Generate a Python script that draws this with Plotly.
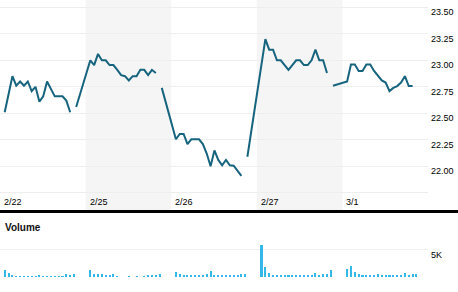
import plotly.graph_objects as go

# ---------------- data ----------------
DAY_LABELS = ["2/22", "2/25", "2/26", "2/27", "3/1"]
# previous close shown before each session's first bar (none for the first day)
PREV_CLOSE = [None, 22.56, 22.74, 22.09, 22.76]

PRICE_D1 = [22.51, 22.68, 22.85, 22.76, 22.80, 22.76, 22.80, 22.71, 22.75, 22.61,
            22.66, 22.80, 22.73, 22.66, 22.66, 22.66, 22.62, 22.51]
PRICE_D2 = [23.00, 22.955, 23.06, 23.00, 23.00, 22.955, 22.955, 22.91, 22.86, 22.85,
            22.81, 22.85, 22.85, 22.91, 22.91, 22.86, 22.91, 22.88]
PRICE_D3 = [22.255, 22.305, 22.305, 22.21, 22.255, 22.255, 22.255, 22.21, 22.12, 22.00,
            22.15, 22.06, 22.01, 22.06, 22.01, 22.005, 21.96, 21.91]
PRICE_D4 = [22.99, 23.20, 23.10, 23.10, 23.00, 23.00, 22.955, 22.91, 22.955, 23.00,
            23.00, 22.955, 22.955, 23.00, 23.10, 23.00, 23.00, 22.88]
PRICE_D5 = [22.80, 22.96, 22.96, 22.90, 22.90, 22.96, 22.96, 22.90, 22.85, 22.81,
            22.79, 22.71, 22.74, 22.757, 22.79, 22.85, 22.757, 22.757]

VOL_D1 = [1230, 790, 370, 180, 180, 180, 180, 180, 180, 370,
          180, 180, 180, 180, 180, 180, 550, 370, 550]
VOL_D2 = [1230, 500, 550, 550, 250, 250, 550, 180, 0, 0,
          180, 0, 180, 0, 180, 370, 370, 370, 550]
VOL_D3 = [980, 550, 250, 430, 430, 250, 430, 430, 550, 1160,
          250, 370, 370, 250, 250, 250, 370, 550, 550]
VOL_D4 = [5900, 1750, 730, 250, 370, 370, 200, 200, 200, 370,
          200, 200, 200, 200, 730, 370, 550, 550, 1280]
VOL_D5 = [1550, 2000, 950, 550, 330, 330, 250, 200, 550, 370,
          370, 250, 330, 250, 370, 780, 370, 550, 550]

PRICE_TICKS = [21.75, 22.00, 22.25, 22.50, 22.75, 23.00, 23.25, 23.50]
PRICE_TICK_TEXT = ["", "22.00", "22.25", "22.50", "22.75", "23.00", "23.25", "23.50"]
VOL_TICKS = [0, 5000]
VOL_TICK_TEXT = ["", "5K"]

# session timing, in fractions of a day slot
FIRST_BAR = 0.055
BAR_STEP = 0.045
PREV_T = -0.11

PRICES = [PRICE_D1, PRICE_D2, PRICE_D3, PRICE_D4, PRICE_D5]
VOLS = [VOL_D1, VOL_D2, VOL_D3, VOL_D4, VOL_D5]

# ---------------- build series ----------------
px_x, px_y = [], []
for d, (pc, prices) in enumerate(zip(PREV_CLOSE, PRICES)):
    if pc is not None:
        px_x.append(d + PREV_T)
        px_y.append(pc)
    for k, p in enumerate(prices):
        px_x.append(d + FIRST_BAR + k * BAR_STEP)
        px_y.append(p)
    px_x.append(None)
    px_y.append(None)

vx, vy = [], []
for d, vols in enumerate(VOLS):
    for k, v in enumerate(vols):
        vx.append(d + FIRST_BAR + k * BAR_STEP)
        vy.append(v)

W, H = 458, 292
PLOT_R = 428 / W
PRICE_BOTTOM = (H - 209) / H
VOL_DOM = [(H - 277) / H, (H - 240) / H]
FONT = "Liberation Sans, Arial, sans-serif"

fig = go.Figure()
fig.add_trace(go.Scatter(x=px_x, y=px_y, mode="lines", connectgaps=False,
                         line=dict(color="#17647e", width=2), hoverinfo="skip",
                         xaxis="x", yaxis="y"))
fig.add_trace(go.Bar(x=vx, y=vy, width=0.024, marker=dict(color="#33b8e8", line_width=0),
                     xaxis="x2", yaxis="y2", hoverinfo="skip"))

shapes = []
for d in range(len(DAY_LABELS)):
    if d % 2 == 1:
        shapes.append(dict(type="rect", xref="x", yref="paper", x0=d, x1=d + 1,
                           y0=PRICE_BOTTOM - 2 / H, y1=1, fillcolor="#f5f5f5",
                           line_width=0, layer="below"))
shapes.append(dict(type="line", xref="paper", yref="paper", x0=0, x1=1,
                   y0=(H - 211.5) / H, y1=(H - 211.5) / H,
                   line=dict(color="#000000", width=3)))

annotations = []
for d, lab in enumerate(DAY_LABELS):
    annotations.append(dict(x=d, xref="x", y=(H - 202) / H, yref="paper", text=lab,
                            showarrow=False, xanchor="left", yanchor="middle", xshift=2,
                            font=dict(size=9, color="#000000", family=FONT)))
annotations.append(dict(x=3 / W, xref="paper", y=(H - 227) / H, yref="paper",
                        text="<b>Volume</b>", showarrow=False, xanchor="left",
                        yanchor="middle", font=dict(size=10, color="#111111", family=FONT)))

fig.update_layout(
    width=W, height=H, margin=dict(l=0, r=0, t=0, b=0),
    paper_bgcolor="#ffffff", plot_bgcolor="rgba(0,0,0,0)",
    showlegend=False, bargap=0,
    shapes=shapes, annotations=annotations,
    font=dict(family=FONT, size=9, color="#000000"),
    xaxis=dict(domain=[0, PLOT_R], range=[0, 5], showgrid=False, zeroline=False,
               showticklabels=False, ticks="", anchor="y", fixedrange=True),
    yaxis=dict(domain=[PRICE_BOTTOM, 1], range=[21.597, 23.569], side="right",
               tickvals=PRICE_TICKS, ticktext=PRICE_TICK_TEXT, showgrid=True,
               gridcolor="#eeeeee", gridwidth=1, zeroline=False, ticks="",
               ticklabelshift=5, ticklabelstandoff=2, ticklabeloverflow="allow",
               anchor="x", tickfont=dict(size=9, color="#000000")),
    xaxis2=dict(domain=[0, PLOT_R], range=[0, 5], showgrid=False, zeroline=False,
                showticklabels=False, ticks="", anchor="y2", matches="x"),
    yaxis2=dict(domain=VOL_DOM, range=[0, 6777], side="right",
                tickvals=VOL_TICKS, ticktext=VOL_TICK_TEXT, showgrid=True,
                gridcolor="#eeeeee", gridwidth=1, zeroline=False, ticks="",
                ticklabelshift=5, ticklabelstandoff=2, ticklabeloverflow="allow",
                anchor="x2", tickfont=dict(size=9, color="#000000")),
)

fig.write_html("out.html")
